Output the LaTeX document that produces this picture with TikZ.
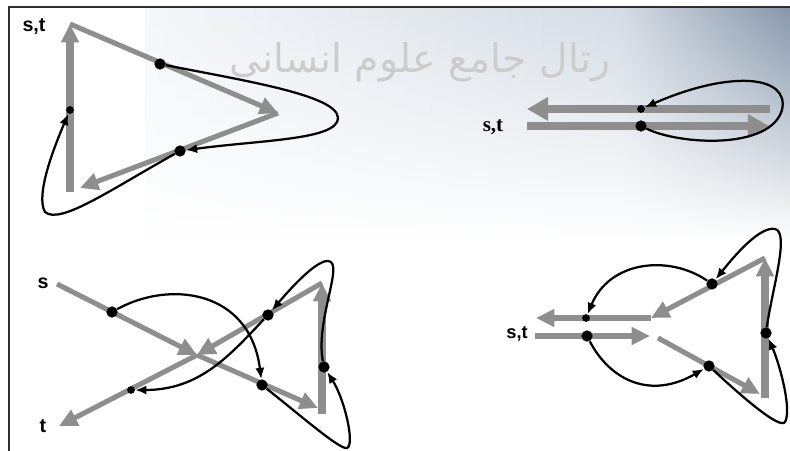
\documentclass[tikz,border=0pt]{standalone}
\usepackage{fontspec}
\setmainfont{Liberation Sans}
\newfontfamily\serifa{Liberation Serif}
\newfontfamily\arabicfont[Script=Arabic]{DejaVu Sans}
\TeXXeTstate=1
\usepackage{xcolor}
\usepackage{tikz}
\usetikzlibrary{arrows.meta,fadings}
\definecolor{cinzaSeta}{HTML}{8E8E8E}
\definecolor{fundoClaro}{HTML}{EEF2F7}
\definecolor{fundoMedio}{HTML}{D5DCE5}
\definecolor{fundoEscuro}{HTML}{8797AB}
\definecolor{moldura}{HTML}{2E2E2E}
\tikzfading[name=fundoFade, top color=transparent!0, middle color=transparent!75, bottom color=transparent!100]
\tikzset{
    seta/.style={
        draw=cinzaSeta,
        line width=3.6pt,
        -{Triangle[length=13pt,width=12pt]}
    },
    setaGrossa/.style={seta, line width=5.5pt},
    setaLarga/.style={seta, line width=5.5pt, -{Triangle[length=15pt,width=16pt]}},
    laco/.style={draw=black, line width=1.6pt, -{Latex[length=8pt,width=6.5pt]}},
    ponto/.style={circle, fill=black, inner sep=0pt, minimum size=8pt},
    pontinho/.style={ponto, minimum size=5.5pt},
    rotulo/.style={font=\bfseries\fontsize{14}{14}\selectfont, inner sep=0pt},
    marcaDagua/.style={text=black!20, font=\arabicfont\fontsize{28}{28}\selectfont}
}

\begin{document}
\begin{tikzpicture}[x=0.025cm, y=-0.025cm]
    \useasboundingbox (0,0) rectangle (790,451);
    \fill[white] (0,0) rectangle (790,451);
    \shade[left color=fundoClaro!60!white, right color=fundoMedio, path fading=fundoFade] (145,8) rectangle (620,240);
    \shade[left color=fundoMedio, right color=fundoEscuro, path fading=fundoFade] (620,8) rectangle (790,240);
    \draw[moldura, line width=2pt] (9,451) -- (9,7) -- (790,7);
    \node[marcaDagua] (marca) at (420,62) {\beginR رتال جامع علوم انسانی\endR};

    \coordinate (base1) at (70,192);
    \coordinate (topo1) at (70,24);
    \coordinate (bico1) at (278,113);
    \coordinate (canto1) at (80,188);
    \draw[setaGrossa] (base1) -- (topo1);
    \draw[seta] (topo1) -- (bico1);
    \draw[seta] (bico1) -- (canto1);
    \node[rotulo] (st1) at (34,27) {s,t};
    \node[ponto] (p1) at (160,64) {};
    \node[pontinho] (q1) at (70,110) {};
    \node[ponto] (r1) at (180,151) {};
    \draw[laco] (p1) .. controls (240,80) and (338,95) .. (338,118) .. controls (338,140) and (260,140) .. (r1);
    \draw[laco] (r1) .. controls (110,190) and (60,225) .. (45,212) .. controls (35,195) and (55,145) .. (q1);

    \coordinate (dirA2) at (770,109);
    \coordinate (esqA2) at (527,109);
    \coordinate (esqB2) at (527,126);
    \coordinate (dirB2) at (769,126);
    \draw[setaLarga] (dirA2) -- (esqA2);
    \draw[setaLarga] (esqB2) -- (dirB2);
    \node[rotulo, font=\serifa\bfseries\fontsize{15}{15}\selectfont] (st2) at (493,127) {s,t};
    \node[pontinho] (p2) at (641,109) {};
    \node[ponto] (q2) at (641,126) {};
    \draw[laco] (q2) .. controls (680,145) and (770,150) .. (782,110) .. controls (790,75) and (730,70) .. (p2);

    \coordinate (s3) at (57,284);
    \coordinate (centro3) at (197,355);
    \coordinate (fundo3) at (318,408);
    \coordinate (baseV3) at (322,414);
    \coordinate (topoV3) at (322,283);
    \coordinate (t3) at (59,426);
    \draw[seta] (s3) -- (centro3);
    \draw[seta] (centro3) -- (fundo3);
    \draw[setaGrossa] (baseV3) -- (topoV3);
    \draw[seta] (topoV3) -- (centro3);
    \draw[seta] (centro3) -- (t3);
    \node[rotulo] (ls) at (43,283) {s};
    \node[rotulo] (lt) at (43,426) {t};
    \node[ponto] (a3) at (112,312) {};
    \node[ponto] (b3) at (268,315) {};
    \node[ponto] (d3) at (324,367) {};
    \node[ponto] (e3) at (262,385) {};
    \node[pontinho] (f3) at (131,390) {};
    \draw[laco] (a3) .. controls (170,280) and (250,290) .. (e3);
    \draw[laco] (e3) .. controls (300,415) and (340,450) .. (347,448) .. controls (355,445) and (345,400) .. (d3);
    \draw[laco] (d3) .. controls (315,320) and (345,262) .. (328,261) .. controls (315,260) and (285,295) .. (b3);
    \draw[laco] (b3) .. controls (230,355) and (200,390) .. (f3);

    \coordinate (dirA4) at (651,318);
    \coordinate (esqA4) at (536,318);
    \coordinate (esqB4) at (535,336);
    \coordinate (dirB4) at (650,336);
    \coordinate (diag4) at (658,338);
    \coordinate (fundo4) at (760,394);
    \coordinate (baseV4) at (765,398);
    \coordinate (topoV4) at (765,258);
    \draw[seta] (dirA4) -- (esqA4);
    \draw[seta] (esqB4) -- (dirB4);
    \draw[seta] (diag4) -- (fundo4);
    \draw[setaGrossa] (baseV4) -- (topoV4);
    \draw[seta] (topoV4) -- (dirA4);
    \node[rotulo, font=\bfseries\fontsize{13}{13}\selectfont] (st4) at (517,334) {s,t};
    \node[pontinho] (a4) at (586,318) {};
    \node[ponto] (b4) at (587,336) {};
    \node[ponto] (c4) at (709,366) {};
    \node[ponto] (d4) at (766,333) {};
    \node[ponto] (e4) at (712,284) {};
    \draw[laco] (b4) .. controls (610,380) and (650,400) .. (c4);
    \draw[laco] (c4) .. controls (740,395) and (780,430) .. (785,422) .. controls (792,410) and (780,365) .. (d4);
    \draw[laco] (d4) .. controls (772,290) and (790,232) .. (775,229) .. controls (760,226) and (735,255) .. (e4);
    \draw[laco] (e4) .. controls (670,255) and (610,260) .. (a4);
\end{tikzpicture}
\end{document}
